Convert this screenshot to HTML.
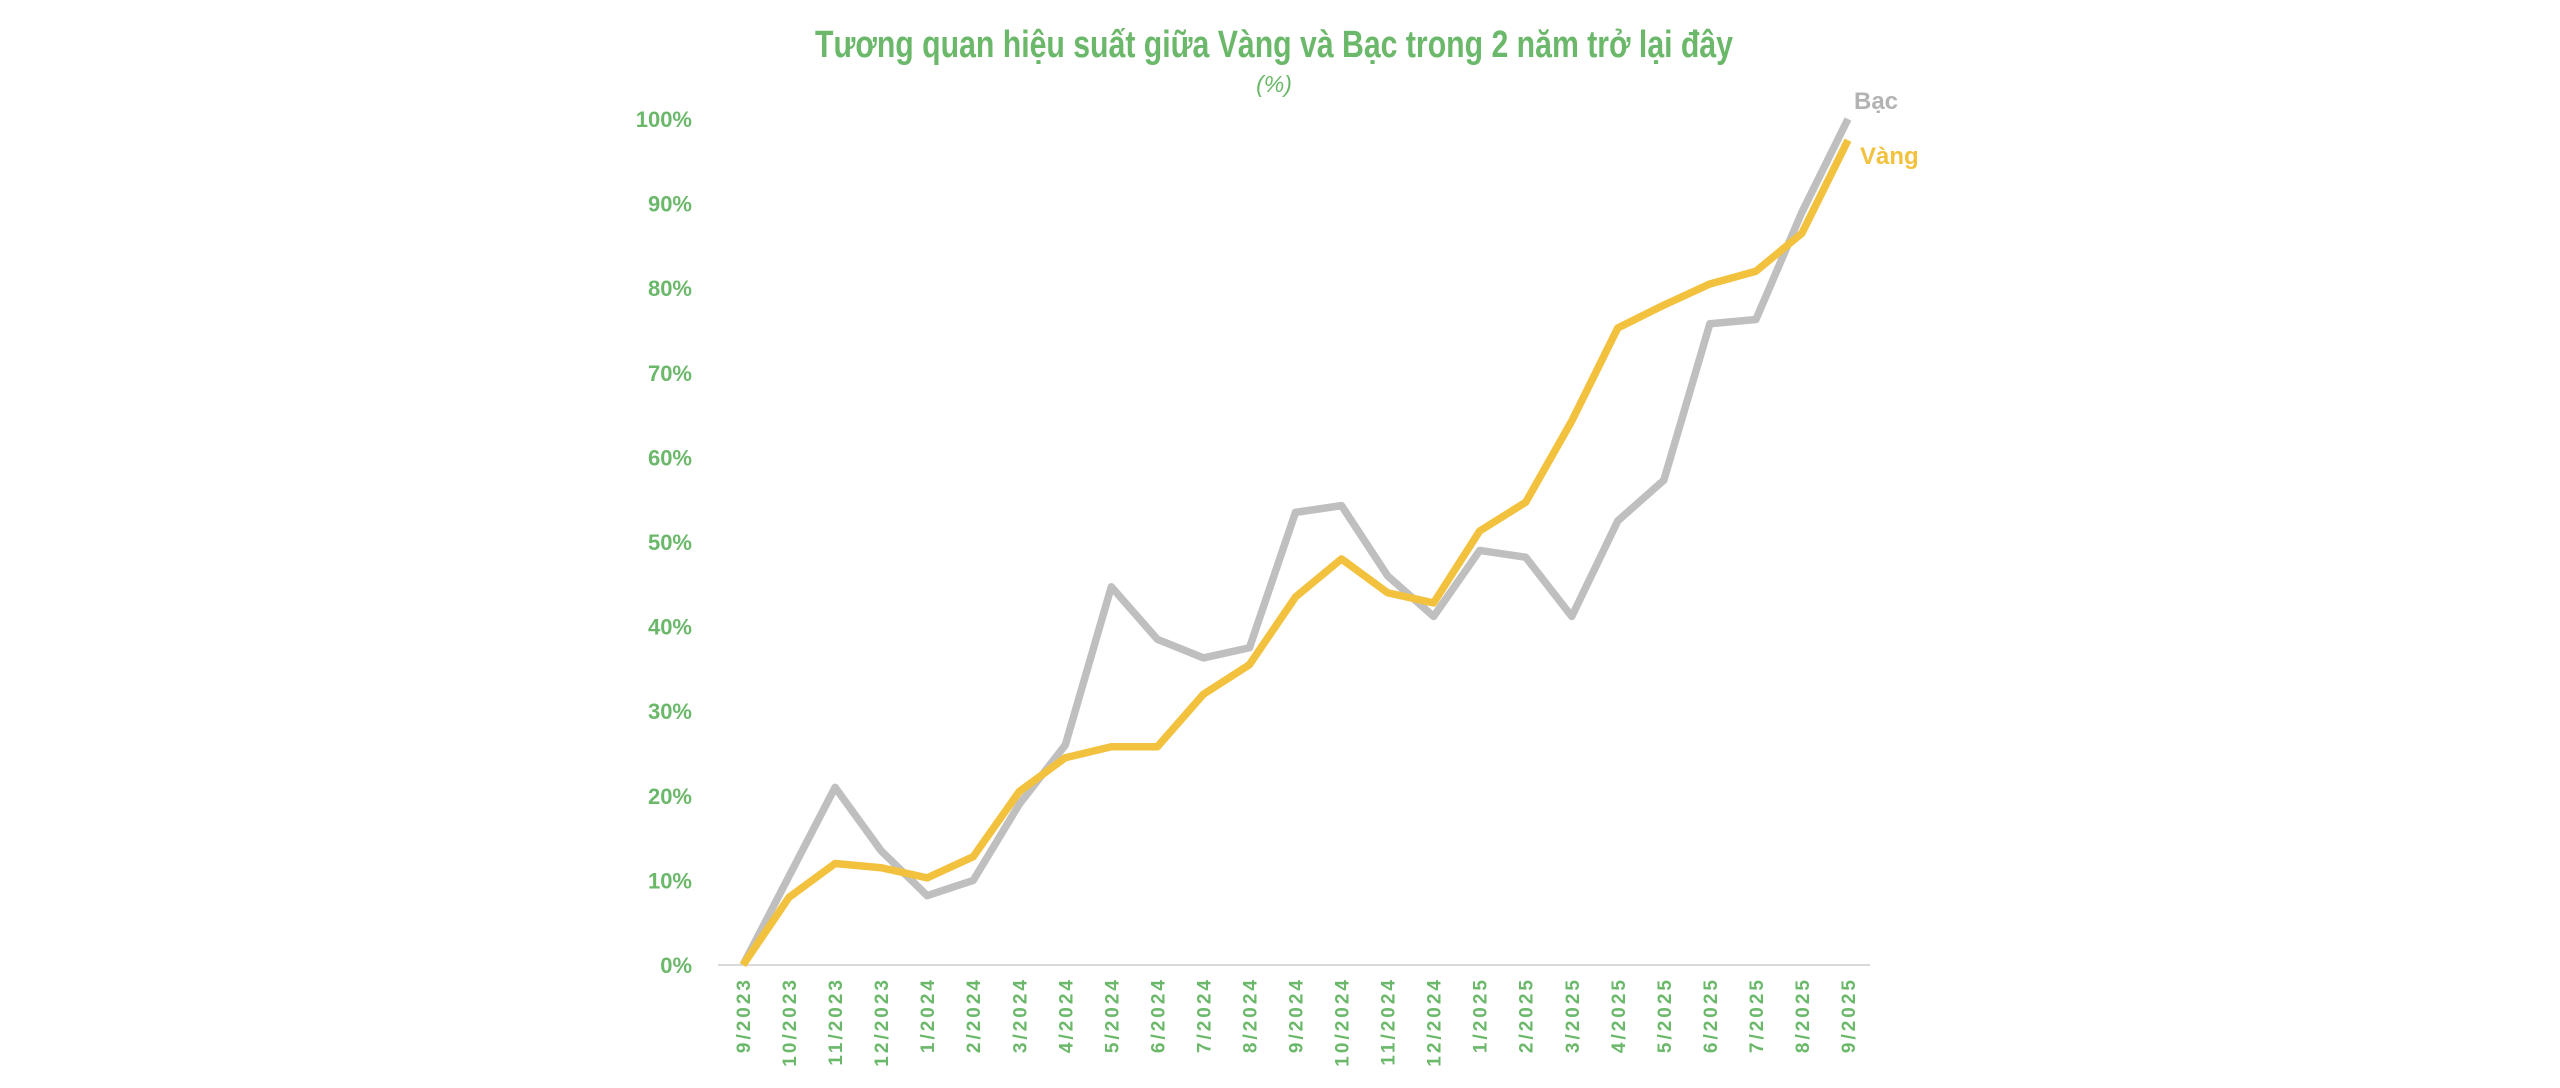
<!DOCTYPE html>
<html><head><meta charset="utf-8"><style>
html,body{margin:0;padding:0;background:#fff;}
svg{display:block;}
</style></head><body>
<svg width="2560" height="1088" viewBox="0 0 2560 1088" xmlns="http://www.w3.org/2000/svg">
<text x="1274" y="57" text-anchor="middle" textLength="918" lengthAdjust="spacingAndGlyphs" font-family="'Liberation Sans Narrow','Liberation Sans',sans-serif" font-weight="bold" font-size="38" fill="#6bb86b">Tương quan hiệu suất giữa Vàng và Bạc trong 2 năm trở lại đây</text>
<text x="1274" y="92" text-anchor="middle" font-family="'Liberation Sans Narrow','Liberation Sans',sans-serif" font-style="italic" font-size="23" fill="#6bb86b">(%)</text>
<line x1="718" y1="965" x2="1870" y2="965" stroke="#d9d9d9" stroke-width="2"/>
<g id="yticks"></g><g id="xticks"></g><g id="lines"></g>
</svg>
<script>
const categories=["9/2023","10/2023","11/2023","12/2023","1/2024","2/2024","3/2024","4/2024","5/2024","6/2024","7/2024","8/2024","9/2024","10/2024","11/2024","12/2024","1/2025","2/2025","3/2025","4/2025","5/2025","6/2025","7/2025","8/2025","9/2025"];
const vangValues=[0,8,12,11.5,10.3,12.8,20.5,24.5,25.8,25.8,32,35.5,43.5,48,44,42.8,51.3,54.7,64.3,75.3,78,80.5,82,86.5,97.5];
const bacValues=[0,10.5,21,13.5,8.2,10,19,26,44.7,38.5,36.3,37.5,53.5,54.3,46,41.2,49,48.2,41.2,52.5,57.3,75.8,76.3,89,100];
const yTicks=[0,10,20,30,40,50,60,70,80,90,100];
const NS="http://www.w3.org/2000/svg";
const x0=743,x1=1848,yBase=965,yTop=119;
function xs(i){return x0+(x1-x0)*i/(categories.length-1);}
function ys(v){return yBase-(yBase-yTop)*v/100;}
const green="#6bb86b";
const yg=document.getElementById('yticks');
yTicks.forEach(t=>{
 const e=document.createElementNS(NS,'text');
 e.setAttribute('x',692);e.setAttribute('y',ys(t)+8);
 e.setAttribute('text-anchor','end');e.setAttribute('font-family',"'Liberation Sans',sans-serif");
 e.setAttribute('font-weight','bold');e.setAttribute('font-size','22');e.setAttribute('fill',green);
 
 
 e.textContent=t+'%';yg.appendChild(e);
});
const xg=document.getElementById('xticks');
categories.forEach((c,i)=>{
 const e=document.createElementNS(NS,'text');
 const x=xs(i)+7,y=977;
 e.setAttribute('transform','translate('+x+','+y+') rotate(-90)');
 e.setAttribute('text-anchor','end');e.setAttribute('font-family',"'Liberation Sans',sans-serif");
 e.setAttribute('font-weight','bold');e.setAttribute('font-size','19');e.setAttribute('letter-spacing','3');e.setAttribute('fill',green);
 
 
 e.textContent=c;xg.appendChild(e);
});
const lg=document.getElementById('lines');
function drawLine(vals,color,name){
 const p=document.createElementNS(NS,'polyline');
 p.setAttribute('points',vals.map((v,i)=>xs(i)+','+ys(v)).join(' '));
 p.setAttribute('fill','none');p.setAttribute('stroke',color);p.setAttribute('stroke-width','7.5');
 p.setAttribute('stroke-linejoin','round');
 
 
 lg.appendChild(p);
}
drawLine(bacValues,'#bfbfbf','bac-line');
drawLine(vangValues,'#f2c13e','vang-line');
function label(txt,x,y,color,name){
 const e=document.createElementNS(NS,'text');
 e.setAttribute('x',x);e.setAttribute('y',y);
 e.setAttribute('font-family',"'Liberation Sans',sans-serif");e.setAttribute('font-weight','bold');
 e.setAttribute('font-size','24');e.setAttribute('fill',color);
 
 
 e.textContent=txt;lg.appendChild(e);
}
const n=categories.length-1;
label('Bạc',xs(n)+6,ys(bacValues[n])-10,'#b3b3b3','bac-series-label');
label('Vàng',xs(n)+12,ys(vangValues[n])+24,'#f2c13e','vang-series-label');
</script>
</body></html>
